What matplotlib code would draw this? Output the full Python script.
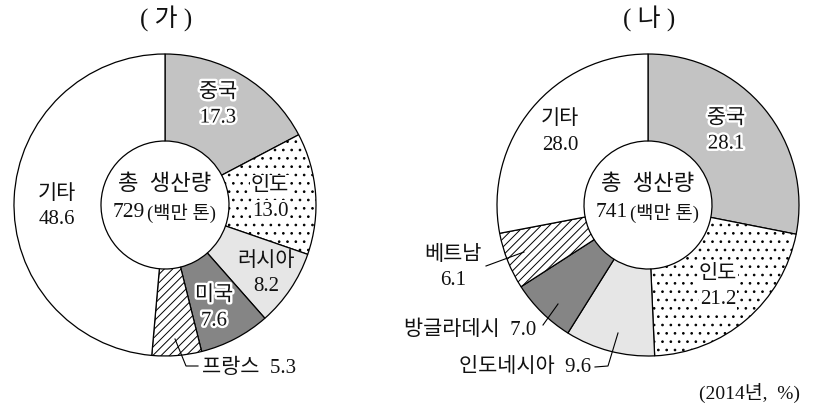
import matplotlib
matplotlib.use("Agg")
import matplotlib.pyplot as plt
import matplotlib.patheffects as pe

plt.rcParams['hatch.linewidth'] = 0.7

FAM = ['Liberation Serif', 'Noto Sans CJK KR']

# ---------------- data ----------------
titles = ['( 가 )', '( 나 )']
totals = ['729', '741']
year_note = '(2014년,  %)'

cats_a = ['중국', '인도', '러시아', '미국', '프랑스', '기타']
vals_a = [17.3, 13.0, 8.2, 7.6, 5.3, 48.6]

cats_b = ['중국', '인도', '인도네시아', '방글라데시', '베트남', '기타']
vals_b = [28.1, 21.2, 9.6, 7.0, 6.1, 28.0]

# ---------------- styles ----------------
faces = ['#c3c3c3', 'white', '#e6e6e6', '#858585', 'white', 'white']
hatches = [None, '..', None, None, '////', None]

W, H = 822, 406
fig = plt.figure(figsize=(W / 100, H / 100), dpi=100)
ax = fig.add_axes([0, 0, 1, 1])


def P(x, y):
    return (x, H - y)


def draw_pie(vals, cx, cy):
    wedges, _ = ax.pie(vals, startangle=90, counterclock=False, radius=151,
                       center=P(cx, cy),
                       colors=faces,
                       wedgeprops=dict(width=151 - 64, edgecolor='black',
                                       linewidth=0.9))
    for w, h in zip(wedges, hatches):
        if h:
            w.set_hatch(h)
    return wedges


draw_pie(vals_a, 165, 206)
draw_pie(vals_b, 648, 206)

stroke = [pe.withStroke(linewidth=3.5, foreground='white')]
white_box = dict(boxstyle='square,pad=0.05', fc='white', ec='none')


def txt(x, y, s, size=15, ha='center', outline=False, box=False, **kw):
    t = ax.text(*P(x, y), s, ha=ha, va='center', fontsize=size, family=FAM,
                color='#111111', **kw)
    if outline:
        t.set_path_effects(stroke)
    if box:
        t.set_bbox(white_box)
    return t


def label(x, y, name, val, outline=False, box=False):
    txt(x, y, name, size=15, outline=outline, box=box)
    txt(x, y + 25, f'{val:.1f}', size=15, outline=outline, box=box)


# titles
txt(166, 19, titles[0], size=18)
txt(649, 19, titles[1], size=18)

# ---- (가) labels ----
label(218, 94, cats_a[0], vals_a[0], outline=True)
label(270, 187, cats_a[1], vals_a[1], box=True)
label(266, 262, cats_a[2], vals_a[2])
label(214, 297, cats_a[3], vals_a[3], outline=True)
label(57, 195, cats_a[5], vals_a[5])
ax.plot(*zip(P(175, 340), P(186, 367), P(198, 367)), color='black', lw=0.8)
txt(202, 368, f'{cats_a[4]}  {vals_a[4]:.1f}', size=15, ha='left')

# ---- (나) labels ----
label(726, 120, cats_b[0], vals_b[0], outline=True)
label(718, 275, cats_b[1], vals_b[1], box=True)
label(560, 120, cats_b[5], vals_b[5])
label(453, 256, cats_b[4], vals_b[4])
ax.plot(*zip(P(486, 267), P(524, 253)), color='black', lw=0.8)
txt(536, 330, f'{cats_b[3]}  {vals_b[3]:.1f}', size=15, ha='right')
ax.plot(*zip(P(543, 326), P(558, 305)), color='black', lw=0.8)
txt(591, 368, f'{cats_b[2]}  {vals_b[2]:.1f}', size=15, ha='right')
ax.plot(*zip(P(595, 368), P(608, 367), P(618, 334)), color='black', lw=0.8)

# centers
for cx, tot in [(165, totals[0]), (648, totals[1])]:
    txt(cx, 185, '총  생산량', size=16)
    txt(cx - 20, 213, tot, size=15.5, ha='right')
    txt(cx - 18, 213, '(백만 톤)', size=13.5, ha='left')

txt(800, 393, year_note, size=14, ha='right')

ax.set_xlim(0, W)
ax.set_ylim(0, H)
ax.set_aspect('equal')
ax.axis('off')
fig.savefig('out.png', dpi=100)
